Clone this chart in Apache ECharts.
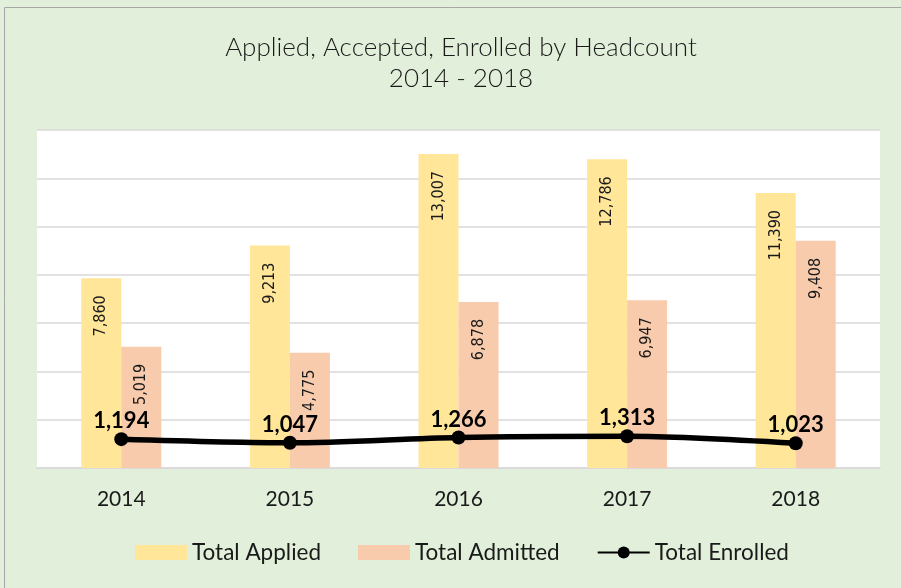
<!DOCTYPE html>
<html>
<head>
<meta charset="utf-8">
<script src="https://cdn.jsdelivr.net/npm/echarts@6/dist/echarts.min.js"></script>
<style>
  html, body { margin: 0; padding: 0; background: #fff; }
  #main { width: 901px; height: 588px; }
</style>
</head>
<body>
<div id="main"></div>
<script>
var years = ['2014', '2015', '2016', '2017', '2018'];
var applied = [7860, 9213, 13007, 12786, 11390];
var admitted = [5019, 4775, 6878, 6947, 9408];
var enrolled = [1194, 1047, 1266, 1313, 1023];

function fmt(v) {
     return v.toLocaleString('en-US');
}

var barLabel = {
     show: true,
     position: 'insideTop',
     rotate: 90,
     align: 'right',
     verticalAlign: 'middle',
     distance: 17,
     fontFamily: '"Liberation Sans Narrow", "DejaVu Sans Condensed", "Arial Narrow", sans-serif',
     fontSize: 16,
     color: '#1a1a1a',
     formatter: function (p) { return fmt(p.value); }
};

var chart = echarts.init(document.getElementById('main'));

chart.setOption({
     backgroundColor: '#E2EFDA',
     animation: false,
     graphic: [{
          type: 'rect',
          shape: { x: 4.5, y: 7.5, width: 901, height: 600 },
          style: { fill: 'none', stroke: '#A6A6A6', lineWidth: 1 },
          z: -1
     }, {
          type: 'rect',
          shape: { x: 37, y: 130, width: 843, height: 338 },
          style: { fill: '#FFFFFF' },
          z: -1
     }],
     title: {
          text: 'Applied, Accepted, Enrolled by Headcount\n2014 - 2018',
          left: 456,
          textAlign: 'center',
          top: 27,
          textStyle: {
               fontFamily: 'Lato',
               fontWeight: 300,
               fontSize: 26,
               lineHeight: 31,
               color: '#1a1a1a'
          }
     },
     legend: {
          bottom: 19,
          left: 130,
          itemGap: 37,
          itemWidth: 52,
          itemHeight: 15,
          textStyle: {
               fontFamily: 'Lato',
               fontSize: 22.5,
               color: '#1a1a1a'
          },
          data: [
               { name: 'Total Applied', icon: 'rect' },
               { name: 'Total Admitted', icon: 'rect' },
               { name: 'Total Enrolled' }
          ]
     },
     grid: {
          left: 37,
          right: 21,
          top: 130,
          bottom: 120
     },
     xAxis: [{
          type: 'category',
          data: years,
          axisTick: { show: false },
          axisLine: { lineStyle: { color: '#D9D9D9', width: 1.5 } },
          axisLabel: {
               margin: 21,
               fontFamily: 'Lato',
               fontSize: 21,
               color: '#1a1a1a'
          }
     }],
     yAxis: [{
          type: 'value',
          min: 0,
          max: 14000,
          interval: 2000,
          axisLabel: { show: false },
          axisLine: { show: false },
          axisTick: { show: false },
          splitLine: { lineStyle: { color: '#D9D9D9', width: 1.5 } }
     }],
     series: [{
          name: 'Total Applied',
          type: 'bar',
          data: applied,
          barWidth: 40,
          barGap: '0%',
          itemStyle: { color: '#FFE699' },
          label: barLabel
     }, {
          name: 'Total Admitted',
          type: 'bar',
          data: admitted,
          barWidth: 40,
          itemStyle: { color: '#F8CBAD' },
          label: barLabel
     }, {
          name: 'Total Enrolled',
          type: 'line',
          data: enrolled,
          smooth: 0.3,
          symbol: 'circle',
          symbolSize: 14,
          itemStyle: { color: '#000000' },
          lineStyle: { color: '#000000', width: 5.5 },
          label: {
               show: true,
               position: 'top',
               distance: 0,
               fontFamily: 'Lato',
               fontWeight: 'bold',
               fontSize: 22,
               color: '#000000',
               formatter: function (p) { return fmt(p.value); }
          },
          z: 5
     }]
});
</script>
</body>
</html>
